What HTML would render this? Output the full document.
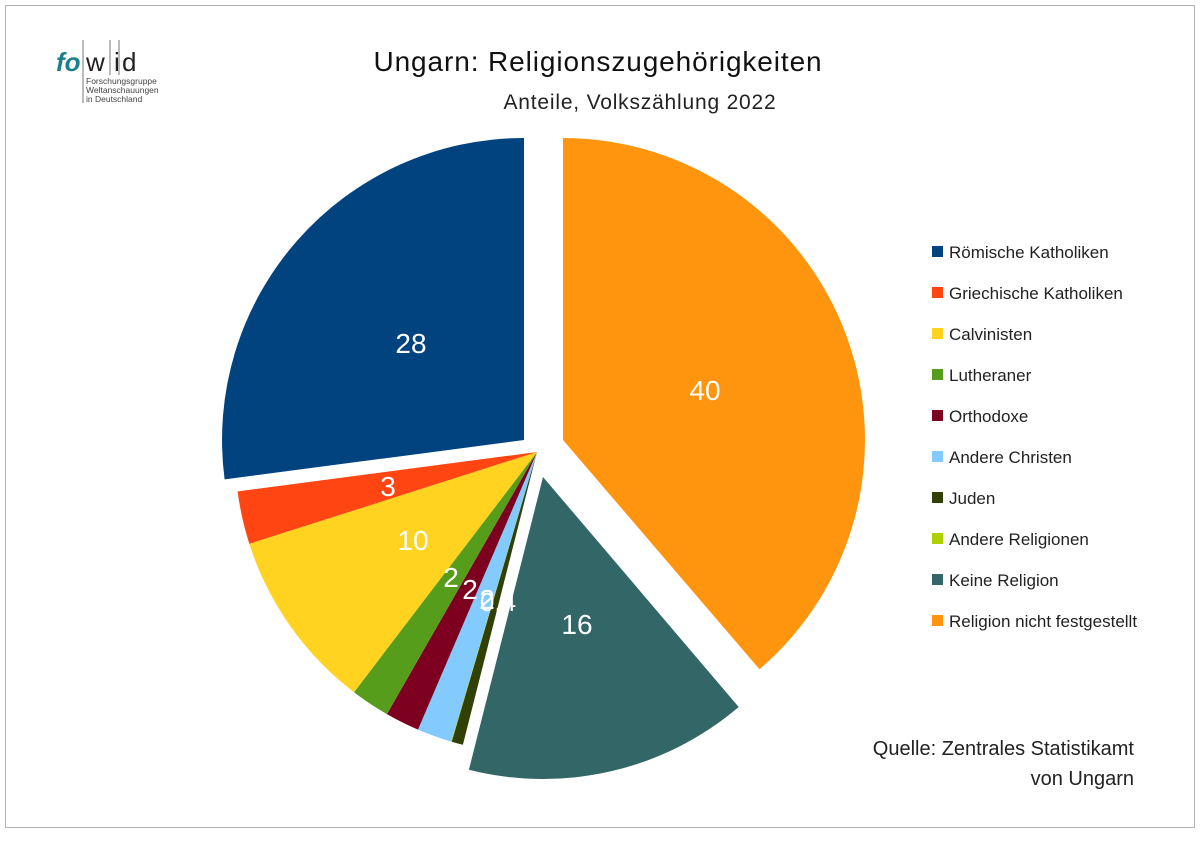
<!DOCTYPE html>
<html><head><meta charset="utf-8">
<style>
html,body{margin:0;padding:0;background:#fff;}
body{width:1200px;height:838px;overflow:hidden;font-family:"Liberation Sans",sans-serif;}
</style></head>
<body>
<svg id="s" width="1200" height="838" viewBox="0 0 1200 838" xmlns="http://www.w3.org/2000/svg">
<rect x="5.5" y="5.5" width="1189" height="822" fill="#fff" stroke="#b3b3b3" stroke-width="1"/>
<g id="pie"></g>
<g font-family="Liberation Sans, sans-serif" fill="#fff" font-size="28" text-anchor="middle">
<text x="411" y="353">28</text>
<text x="705" y="400">40</text>
<text x="577" y="634">16</text>
<text x="388" y="496">3</text>
<text x="413" y="550">10</text>
<text x="451" y="587">2</text>
<text x="470" y="599">2</text>
<text x="487" y="609">2</text>
<text x="498" y="611" font-size="26">0.4</text>
</g>
<text x="598" y="71" font-size="28" letter-spacing="0.9" text-anchor="middle" fill="#111" font-family="Liberation Sans, sans-serif">Ungarn: Religionszugehörigkeiten</text>
<text x="640" y="109" font-size="21" letter-spacing="0.8" text-anchor="middle" fill="#222" font-family="Liberation Sans, sans-serif">Anteile, Volkszählung 2022</text>
<g font-family="Liberation Sans, sans-serif" font-size="17" fill="#222">
<rect x="932" y="246" width="11" height="11" fill="#00437f"/><text x="949" y="258">Römische Katholiken</text>
<rect x="932" y="287" width="11" height="11" fill="#ff4612"/><text x="949" y="299">Griechische Katholiken</text>
<rect x="932" y="328" width="11" height="11" fill="#ffd320"/><text x="949" y="340">Calvinisten</text>
<rect x="932" y="369" width="11" height="11" fill="#579d1c"/><text x="949" y="381">Lutheraner</text>
<rect x="932" y="410" width="11" height="11" fill="#7e0021"/><text x="949" y="422">Orthodoxe</text>
<rect x="932" y="451" width="11" height="11" fill="#83caff"/><text x="949" y="463">Andere Christen</text>
<rect x="932" y="492" width="11" height="11" fill="#314004"/><text x="949" y="504">Juden</text>
<rect x="932" y="533" width="11" height="11" fill="#aecf00"/><text x="949" y="545">Andere Religionen</text>
<rect x="932" y="574" width="11" height="11" fill="#336666"/><text x="949" y="586">Keine Religion</text>
<rect x="932" y="615" width="11" height="11" fill="#ff950e"/><text x="949" y="627">Religion nicht festgestellt</text>
</g>
<g font-family="Liberation Sans, sans-serif" font-size="20" fill="#222" text-anchor="end">
<text x="1134" y="755">Quelle: Zentrales Statistikamt</text>
<text x="1134" y="785">von Ungarn</text>
</g>
<g font-family="Liberation Sans, sans-serif">
<text x="56" y="71" font-size="26" font-style="italic" font-weight="bold" fill="#1a7f8c">fo</text>
<text x="86" y="71" font-size="26" fill="#222">w</text>
<text x="114" y="71" font-size="26" fill="#222">i</text>
<text x="122" y="71" font-size="26" fill="#222">d</text>
<line x1="83" y1="40" x2="83" y2="103" stroke="#777" stroke-width="1"/>
<line x1="110" y1="40" x2="110" y2="75" stroke="#777" stroke-width="1"/>
<line x1="119" y1="40" x2="119" y2="75" stroke="#777" stroke-width="1"/>
<text x="86" y="84" font-size="8.5" fill="#444">Forschungsgruppe</text>
<text x="86" y="93" font-size="8.5" fill="#444">Weltanschauungen</text>
<text x="86" y="102" font-size="8.5" fill="#444">in Deutschland</text>
</g>
</svg>
<script>
var R=302;
var sl=[
 [563,440,0,139.4,"#ff950e"],
 [543,477,139.6,194.2,"#336666"],
 [537,452,194.2,196.4,"#314004"],
 [537,452,196.4,196.5,"#aecf00"],
 [537,452,196.5,203.2,"#83caff"],
 [537,452,203.2,209.8,"#7e0021"],
 [537,452,209.8,217.3,"#579d1c"],
 [537,452,217.3,252.3,"#ffd320"],
 [537,452,252.3,262.5,"#ff4612"],
 [524,440,262.5,360,"#00437f"]
];
var g=document.getElementById("pie"),h="";
function pt(cx,cy,a){var r=a*Math.PI/180;return [cx+R*Math.sin(r),cy-R*Math.cos(r)];}
sl.forEach(function(s){
 var p1=pt(s[0],s[1],s[2]),p2=pt(s[0],s[1],s[3]);var la=(s[3]-s[2])>180?1:0;
 h+='<path d="M'+s[0]+' '+s[1]+' L'+p1[0].toFixed(1)+' '+p1[1].toFixed(1)+' A'+R+' '+R+' 0 '+la+' 1 '+p2[0].toFixed(1)+' '+p2[1].toFixed(1)+' Z" fill="'+s[4]+'"/>';
});
g.innerHTML=h;
</script>
</body></html>
